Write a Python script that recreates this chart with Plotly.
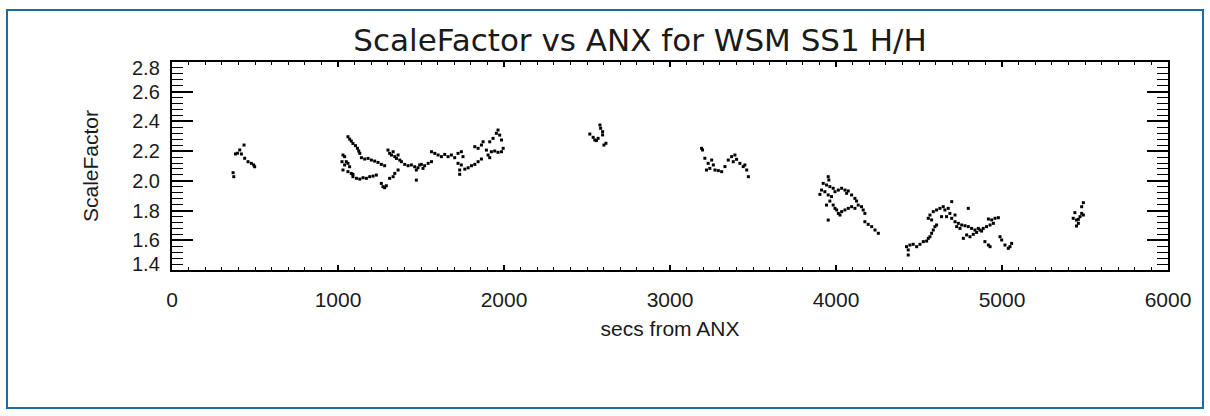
import plotly.graph_objects as go

# ---- data ----
secs_a = [434, 408, 394, 382, 418, 438, 458, 478, 498, 492, 368, 372]
sf_a = [2.241, 2.208, 2.186, 2.181, 2.181, 2.152, 2.129, 2.118, 2.095, 2.107, 2.055, 2.028]

secs_b = [1060, 1070, 1080, 1090, 1105, 1117, 1125, 1131, 1030, 1040, 1024, 1050, 1060, 1040, 1070,
          1030, 1060, 1080, 1090, 1141, 1161, 1181, 1201, 1221, 1241, 1261, 1281, 1090, 1111, 1131,
          1151, 1171, 1191, 1211, 1231, 1261, 1271, 1281, 1291, 1311, 1332, 1342, 1362, 1301, 1311,
          1322, 1332, 1342, 1352, 1362, 1372, 1382, 1402, 1422, 1442, 1462, 1482, 1492, 1502, 1522,
          1543, 1563, 1512, 1472, 1472, 1563, 1583, 1603, 1623, 1643, 1663, 1683, 1703, 1723, 1743,
          1753, 1723, 1743, 1733, 1733, 1764, 1784, 1804, 1824, 1844, 1864, 1824, 1844, 1864, 1874,
          1894, 1904, 1914, 1914, 1934, 1954, 1964, 1974, 1985, 1924, 1944, 1964, 1985, 1995]
sf_b = [2.297, 2.281, 2.268, 2.252, 2.237, 2.219, 2.201, 2.185, 2.174, 2.163, 2.129, 2.129, 2.118, 2.107, 2.095,
        2.073, 2.062, 2.050, 2.044, 2.156, 2.147, 2.151, 2.140, 2.133, 2.124, 2.111, 2.102, 2.028, 2.017, 2.012,
        2.021, 2.017, 2.028, 2.032, 2.039, 1.983, 1.961, 1.954, 1.967, 2.017, 2.028, 2.050, 2.073, 2.207, 2.185,
        2.174, 2.196, 2.163, 2.151, 2.174, 2.140, 2.129, 2.111, 2.102, 2.107, 2.095, 2.088, 2.107, 2.111, 2.102,
        2.118, 2.129, 2.084, 2.073, 2.005, 2.196, 2.185, 2.174, 2.163, 2.178, 2.163, 2.174, 2.156, 2.185, 2.196,
        2.163, 2.118, 2.107, 2.073, 2.044, 2.079, 2.088, 2.102, 2.111, 2.129, 2.147, 2.230, 2.219, 2.241, 2.263,
        2.207, 2.174, 2.156, 2.263, 2.286, 2.320, 2.342, 2.308, 2.275, 2.196, 2.201, 2.192, 2.196, 2.219]

secs_c = [2578, 2582, 2594, 2594, 2517, 2537, 2547, 2557, 2567, 2602, 2614]
sf_c = [2.376, 2.354, 2.331, 2.309, 2.315, 2.293, 2.275, 2.271, 2.286, 2.241, 2.253]

secs_d = [3190, 3196, 3210, 3230, 3220, 3240, 3261, 3271, 3291, 3311, 3331, 3351, 3371, 3381, 3391,
          3401, 3421, 3441, 3451, 3462, 3472, 3251]
sf_d = [2.219, 2.208, 2.152, 2.118, 2.073, 2.084, 2.107, 2.073, 2.069, 2.062, 2.096, 2.140, 2.163, 2.129, 2.174,
        2.145, 2.118, 2.096, 2.107, 2.073, 2.028, 2.140]

secs_e = [3953, 3957, 3923, 3943, 3963, 3983, 3913, 3933, 3903, 3953, 3973, 3994, 4014, 4034, 4054,
          4064, 4074, 4094, 4114, 4124, 3963, 3943, 3983, 3994, 4004, 4014, 4024, 4034, 4054, 4074,
          4094, 4114, 4134, 4154, 4164, 4174, 3953, 4174, 4194, 4215, 4235, 4255]
sf_e = [2.028, 2.006, 1.983, 1.972, 1.961, 1.950, 1.938, 1.927, 1.909, 1.905, 1.894, 1.927, 1.938, 1.950, 1.938,
        1.916, 1.932, 1.905, 1.882, 1.864, 1.864, 1.837, 1.837, 1.815, 1.804, 1.781, 1.770, 1.793, 1.804, 1.815,
        1.826, 1.815, 1.837, 1.826, 1.804, 1.781, 1.736, 1.725, 1.707, 1.692, 1.669, 1.647]

secs_f = [4425, 4435, 4445, 4465, 4486, 4506, 4526, 4546, 4556, 4566, 4435, 4576, 4586, 4596, 4606,
          4556, 4576, 4566, 4586, 4606, 4626, 4646, 4656, 4676, 4686, 4697, 4636, 4666, 4697, 4717,
          4717, 4737, 4757, 4777, 4797, 4727, 4747, 4797, 4787, 4767, 4807, 4827, 4847, 4867, 4887,
          4907, 4928, 4948, 4958, 4938, 4918, 4978, 4817, 4837, 4857, 4877, 4897, 4918, 4928, 4988,
          4998, 5018, 5038, 5058, 5048]
sf_f = [1.557, 1.535, 1.568, 1.573, 1.557, 1.573, 1.591, 1.595, 1.613, 1.624, 1.501, 1.647, 1.669, 1.692, 1.703,
        1.748, 1.737, 1.770, 1.793, 1.804, 1.815, 1.826, 1.804, 1.815, 1.781, 1.860, 1.759, 1.759, 1.748, 1.770,
        1.725, 1.714, 1.703, 1.698, 1.692, 1.692, 1.680, 1.815, 1.636, 1.613, 1.624, 1.640, 1.653, 1.669, 1.680,
        1.692, 1.703, 1.714, 1.748, 1.737, 1.743, 1.752, 1.680, 1.669, 1.680, 1.662, 1.591, 1.568, 1.557, 1.624,
        1.602, 1.568, 1.546, 1.579, 1.557]

secs_g = [5490, 5480, 5439, 5480, 5490, 5470, 5429, 5449, 5460, 5460, 5449]
sf_g = [1.853, 1.826, 1.786, 1.781, 1.770, 1.759, 1.748, 1.736, 1.741, 1.714, 1.696]

x_ticks = [0, 1000, 2000, 3000, 4000, 5000, 6000]
y_ticks = [1.4, 1.6, 1.8, 2.0, 2.2, 2.4, 2.6, 2.8]
y_tick_text = ["1.4", "1.6", "1.8", "2.0", "2.2", "2.4", "2.6", "2.8"]

secs = secs_a + secs_b + secs_c + secs_d + secs_e + secs_f + secs_g
sf = sf_a + sf_b + sf_c + sf_d + sf_e + sf_f + sf_g

FONT = "Liberation Sans, DejaVu Sans, sans-serif"
TFONT = "DejaVu Sans, Liberation Sans, sans-serif"
TXT = "#1a1a1a"

fig = go.Figure()
fig.add_trace(go.Scatter(
    x=secs, y=sf, mode="markers",
    marker=dict(symbol="square", size=3, color="black", line=dict(width=0)),
    showlegend=False, hoverinfo="x+y",
))

# end labels of the y axis are nudged inward, as in the original
inner_text = [t if v not in (y_ticks[0], y_ticks[-1]) else "" for v, t in zip(y_ticks, y_tick_text)]
annotations = [
    dict(x=0, xref="paper", xanchor="right", xshift=-10, y=y_ticks[-1], yref="y",
         yshift=-6, text=y_tick_text[-1], showarrow=False, font=dict(family=FONT, size=20, color=TXT)),
    dict(x=0, xref="paper", xanchor="right", xshift=-10, y=y_ticks[0], yref="y",
         yshift=6, text=y_tick_text[0], showarrow=False, font=dict(family=FONT, size=20, color=TXT)),
]

fig.update_layout(
    width=1210, height=416,
    margin=dict(l=172, r=42, t=62, b=146),
    paper_bgcolor="white", plot_bgcolor="white",
    font=dict(family=FONT, color=TXT, size=18),
    title=dict(text="ScaleFactor vs ANX for WSM SS1 H/H", x=640 / 1210, xanchor="center",
               y=1 - 40 / 416, yanchor="middle", yref="container",
               font=dict(family=TFONT, size=31, color=TXT)),
    xaxis=dict(
        range=[0, 6000], tickvals=x_ticks, ticktext=[str(v) for v in x_ticks],
        showgrid=False, zeroline=False,
        showline=True, linecolor="black", linewidth=2, mirror="allticks",
        ticks="inside", ticklen=5, tickwidth=1.5, tickcolor="black",
        minor=dict(dtick=100, ticks="inside", ticklen=3, tickwidth=1, tickcolor="black"),
        tickfont=dict(size=21), ticklabelstandoff=10,
        title=dict(text="secs from ANX", font=dict(size=21), standoff=11),
    ),
    yaxis=dict(
        range=[1.4, 2.8], tickvals=y_ticks, ticktext=inner_text,
        showgrid=False, zeroline=False,
        showline=True, linecolor="black", linewidth=2, mirror="allticks",
        ticks="inside", ticklen=21, tickwidth=1.5, tickcolor="black",
        minor=dict(dtick=0.04, tick0=1.4, ticks="inside", ticklen=11, tickwidth=1, tickcolor="black"),
        tickfont=dict(size=20), ticklabelstandoff=6,
        title=dict(text="ScaleFactor", font=dict(size=21), standoff=28),
    ),
    annotations=annotations,
    shapes=[dict(type="rect", xref="paper", yref="paper",
                 x0=(7 - 172) / 996, x1=(1203 - 172) / 996,
                 y0=(270 - 408) / 208, y1=(270 - 10) / 208,
                 line=dict(color="#1f6aa5", width=2), fillcolor="rgba(0,0,0,0)", layer="below")],
)

fig.write_html("out.html", config={"displayModeBar": False},
               post_script="document.body.style.margin='0px';document.body.style.overflow='hidden';")
